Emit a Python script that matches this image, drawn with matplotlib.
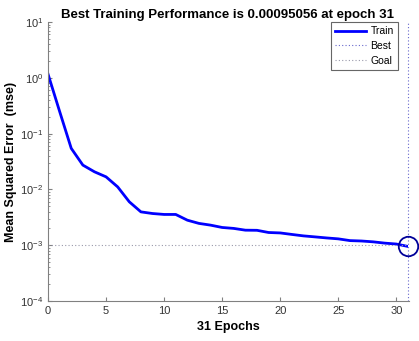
import numpy as np
import matplotlib.pyplot as plt

plt.rcParams['font.family'] = ['Liberation Sans', 'DejaVu Sans']

# ==== data ====
epochs = list(range(32))
train_mse = [1.17, 0.25, 0.0545, 0.0273, 0.0207, 0.0168, 0.0111, 0.0060,
             0.00396, 0.0037, 0.00356, 0.00356, 0.00281, 0.00246, 0.00229, 0.00208,
             0.0020, 0.00186, 0.00185, 0.00169, 0.00166, 0.00156, 0.00147, 0.00141,
             0.00135, 0.0013, 0.00121, 0.00119, 0.00115, 0.00109, 0.00105, 0.00095056]
best_epoch = 31
best_perf = 0.00095056
goal = 0.001
x_ticks = [0, 5, 10, 15, 20, 25, 30]
y_ticks = [1e-4, 1e-3, 1e-2, 1e-1, 1e0, 1e1]

fig = plt.figure(figsize=(4.19, 3.41), dpi=100)
ax = fig.add_axes([0.1146, 0.1173, 0.859, 0.818])

ax.plot(epochs, train_mse, color='#0000ff', lw=2, label='Train')
ax.axvline(best_epoch, color='#6666cc', lw=0.8, ls=(0, (1, 2)), label='Best', clip_on=False)
ax.axhline(goal, color='#9999aa', lw=0.8, ls=(0, (1, 2)), label='Goal')
ax.plot([best_epoch], [best_perf], 'o', ms=14, mfc='none', mec='#000099', mew=1.3, clip_on=False)

ax.set_yscale('log')
ax.set_xlim(0, 31)
ax.set_ylim(1e-4, 1e1)
ax.set_xticks(x_ticks)
ax.set_yticks(y_ticks)

for s in ['top', 'right']:
    ax.spines[s].set_visible(False)
for s in ['left', 'bottom']:
    ax.spines[s].set_color('#808080')
ax.spines['bottom'].set_bounds(0, 31.1)
ax.tick_params(which='both', direction='in', colors='#808080', labelcolor='#333333', labelsize=8)
ax.tick_params(which='major', length=3)
ax.tick_params(which='minor', length=1.5)

ax.set_title('Best Training Performance is 0.00095056 at epoch 31', fontsize=9.5, fontweight='bold', pad=3)
ax.set_xlabel('31 Epochs', fontsize=9, fontweight='bold', labelpad=4)
ax.set_ylabel('Mean Squared Error  (mse)', fontsize=9, fontweight='bold', labelpad=2)

leg = ax.legend(loc='upper right', fontsize=7.5, frameon=True, fancybox=False, borderpad=0.4,
                handlelength=3.0, handletextpad=0.4, labelspacing=0.45, borderaxespad=0,
                bbox_to_anchor=(0.972, 1.0))
leg.get_frame().set_edgecolor('#404040')
leg.get_frame().set_linewidth(0.8)

fig.savefig('out.png', dpi=100)
